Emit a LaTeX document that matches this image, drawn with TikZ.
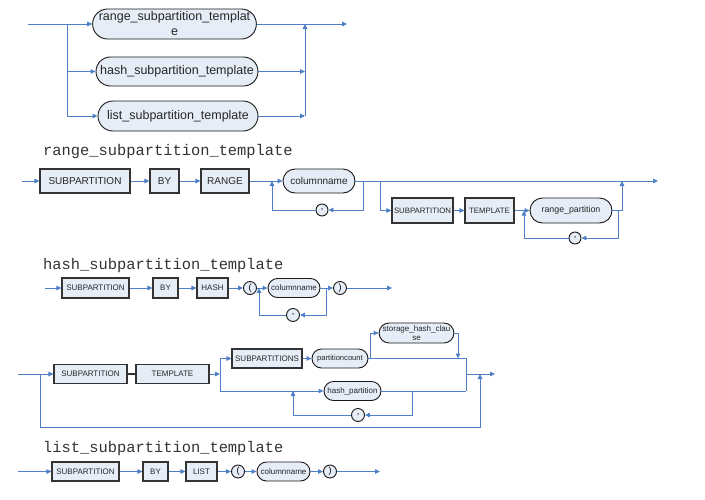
\documentclass[tikz,border=0pt]{standalone}
\usepackage{fontspec}
\setmainfont{Liberation Sans}
\newfontfamily\monofam{Liberation Mono}
\usetikzlibrary{shapes.misc,shapes.geometric,arrows.meta}
\definecolor{railc}{HTML}{4F7FC6}
\definecolor{boxfill}{HTML}{E6EDF7}
\definecolor{kwdraw}{HTML}{333333}
\newcommand\myfs[1]{\fontsize{#1}{#1}\selectfont}
\tikzset{
  kw/.style={rectangle, draw=kwdraw, fill=boxfill, line width=1.1pt, inner sep=0pt, text=black!85},
  nt/.style={rounded rectangle, draw=black!90, fill=boxfill, line width=0.9pt, inner sep=0pt, text=black!85},
  cir/.style={circle, draw=black!90, fill=boxfill, line width=0.9pt, inner sep=0pt, minimum size=13pt, font=\myfs{9}},
  rail/.style={draw=railc, line width=0.9pt},
  arr/.style={rail, -{Triangle[length=5pt,width=4.5pt]}},
  ttl/.style={anchor=base west, inner sep=0pt, font=\monofam\myfs{15.4}, text=black!80},
}
\begin{document}
\begin{tikzpicture}[x=1pt,y=-1pt]
\useasboundingbox (0,0) rectangle (705,499);

% ---------- top choice ----------
\node[nt, minimum width=161pt, minimum height=30pt, align=center, font=\fontsize{12.5}{15}\selectfont] (trange) at (174.5,24) {range\_subpartition\_templat\\e};
\node[nt, minimum width=162pt, minimum height=29pt, font=\myfs{12.5}] (thash) at (177,71.5) {hash\_subpartition\_template};
\node[nt, minimum width=160pt, minimum height=30pt, font=\myfs{12.5}] (tlist) at (178,116) {list\_subpartition\_template};
\coordinate (t0) at (28,24);
\coordinate (tb) at (67,24);
\coordinate (tj) at (305,24);
\coordinate (tend) at (347,24);
\draw[arr] (t0) -- (trange.west);
\draw[arr] (tb) |- (thash.west);
\draw[arr] (tb) |- (tlist.west);
\draw[arr] (trange.east) -- (tend);
\draw[arr] (thash.east) -- (tj |- thash.east);
\draw[arr] (tlist.east) -- (tj |- tlist.east);
\draw[arr] (tj |- tlist.east) -- (tj);

% ---------- range_subpartition_template ----------
\node[ttl] (title1) at (43,155) {range\_subpartition\_template};
\node[kw, minimum width=90pt, minimum height=24pt, font=\myfs{10}] (rsub) at (85,181) {SUBPARTITION};
\node[kw, minimum width=29pt, minimum height=24pt, font=\myfs{10}] (rby) at (164.5,181) {BY};
\node[kw, minimum width=48pt, minimum height=24pt, font=\myfs{10}] (rrange) at (225,181) {RANGE};
\node[nt, minimum width=72pt, minimum height=24pt, font=\myfs{10}] (rcol) at (319,181) {columnname};
\node[cir, minimum size=12pt] (rcomma) at (322,210) {,};
\node[kw, minimum width=61pt, minimum height=25pt, font=\myfs{7.8}] (rsub2) at (422.5,210.5) {SUBPARTITION};
\node[kw, minimum width=49pt, minimum height=25pt, font=\myfs{7.8}] (rtpl) at (489.5,210.5) {TEMPLATE};
\node[nt, minimum width=82pt, minimum height=25pt, font=\myfs{8.8}] (rrp) at (571,210.5) {range\_partition};
\node[cir, minimum size=12pt] (rcomma2) at (575,238) {,};
\coordinate (r0) at (22,181);
\coordinate (rend) at (658,181);
\draw[arr] (r0) -- (rsub.west);
\draw[arr] (rsub.east) -- (rby.west);
\draw[arr] (rby.east) -- (rrange.west);
\draw[arr] (rrange.east) -- (rcol.west);
\draw[arr] (rcol.east) -- (rend);
\draw[arr] (rcol.east) -| (363,210) -- (rcomma.east);
\draw[arr] (rcomma.west) -| (272,181);
\draw[arr] (380,181) |- (rsub2.west);
\draw[arr] (rsub2.east) -- (rtpl.west);
\draw[arr] (rtpl.east) -- (rrp.west);
\draw[arr] (rrp.east) -| (622,181);
\draw[arr] (618,210.5) |- (rcomma2.east);
\draw[arr] (rcomma2.west) -| (524,210.5);

% ---------- hash_subpartition_template ----------
\node[ttl] (title2) at (43,269) {hash\_subpartition\_template};
\node[kw, minimum width=67pt, minimum height=20pt, font=\myfs{8}] (hsub) at (95.5,288) {SUBPARTITION};
\node[kw, minimum width=25pt, minimum height=20pt, font=\myfs{8}] (hby) at (165.5,288) {BY};
\node[kw, minimum width=31pt, minimum height=20pt, font=\myfs{8}] (hhash) at (212.5,288) {HASH};
\node[cir] (hlp) at (250,288) {(};
\node[nt, minimum width=52pt, minimum height=19pt, font=\myfs{8}] (hcol) at (294,288) {columnname};
\node[cir] (hcomma) at (293,315) {,};
\node[cir] (hrp) at (340,288) {)};
\coordinate (h0) at (45,288);
\coordinate (hend) at (392,288);
\draw[arr] (h0) -- (hsub.west);
\draw[arr] (hsub.east) -- (hby.west);
\draw[arr] (hby.east) -- (hhash.west);
\draw[arr] (hhash.east) -- (hlp.west);
\draw[arr] (hlp.east) -- (hcol.west);
\draw[arr] (hcol.east) -- (hrp.west);
\draw[arr] (hrp.east) -- (hend);
\draw[arr] (326,288) |- (hcomma.east);
\draw[arr] (hcomma.west) -| (259,288);

% ---------- hash second part ----------
\node[kw, minimum width=73pt, minimum height=19pt, font=\myfs{8}] (h2sub) at (90.5,374) {SUBPARTITION};
\node[kw, minimum width=73pt, minimum height=19pt, font=\myfs{8}] (h2tpl) at (172.5,374) {TEMPLATE};
\node[kw, minimum width=70pt, minimum height=19pt, font=\myfs{8}] (h2subs) at (267,358.5) {SUBPARTITIONS};
\node[nt, minimum width=56pt, minimum height=19pt, font=\myfs{7.6}] (h2pc) at (340,358.5) {partitioncount};
\node[nt, minimum width=71pt, minimum height=20pt, align=center, font=\fontsize{8}{9.5}\selectfont] (h2shc) at (416.5,333) {storage\_hash\_clau\\se};
\node[nt, minimum width=57pt, minimum height=19pt, font=\myfs{8}] (h2hp) at (352.5,391) {hash\_partition};
\node[cir] (h2comma) at (358,415) {,};
\coordinate (g0) at (18,374);
\coordinate (gb) at (40,374);
\coordinate (gs) at (220,374);
\coordinate (gj) at (466,374);
\coordinate (gend) at (495,374);
\draw[arr] (g0) -- (h2sub.west);
\draw[draw=kwdraw, line width=1.1pt] (h2sub.east) -- (h2tpl.west);
\draw[arr] (h2tpl.east) -- (gs);
\draw[arr] (gs) |- (h2subs.west);
\draw[arr] (gs) |- (h2hp.west);
\draw[arr] (h2subs.east) -- (h2pc.west);
\draw[rail] (h2pc.east) -| (466,391);
\draw[rail] (h2hp.east) -- (466,391);
\draw[arr] (gj) -- (gend);
\draw[arr] (370,358.5) |- (h2shc.west);
\draw[arr] (h2shc.east) -| (458,358.5);
\draw[arr] (412,391) |- (h2comma.east);
\draw[arr] (h2comma.west) -| (293,391);
\draw[arr] (gb) |- (480,427) -- (480,374);

% ---------- list_subpartition_template ----------
\node[ttl] (title3) at (43,452) {list\_subpartition\_template};
\node[kw, minimum width=67pt, minimum height=19pt, font=\myfs{8}] (lsub) at (85.5,471.5) {SUBPARTITION};
\node[kw, minimum width=25pt, minimum height=19pt, font=\myfs{8}] (lby) at (155.5,471.5) {BY};
\node[kw, minimum width=31pt, minimum height=19pt, font=\myfs{8}] (llist) at (201.5,471.5) {LIST};
\node[cir] (llp) at (238,471.5) {(};
\node[nt, minimum width=53pt, minimum height=19pt, font=\myfs{8}] (lcol) at (283.5,471.5) {columnname};
\node[cir] (lrp) at (330,471.5) {)};
\coordinate (l0) at (18,471.5);
\coordinate (lend) at (380,471.5);
\draw[arr] (l0) -- (lsub.west);
\draw[arr] (lsub.east) -- (lby.west);
\draw[arr] (lby.east) -- (llist.west);
\draw[arr] (llist.east) -- (llp.west);
\draw[arr] (llp.east) -- (lcol.west);
\draw[arr] (lcol.east) -- (lrp.west);
\draw[arr] (lrp.east) -- (lend);
\end{tikzpicture}
\end{document}
